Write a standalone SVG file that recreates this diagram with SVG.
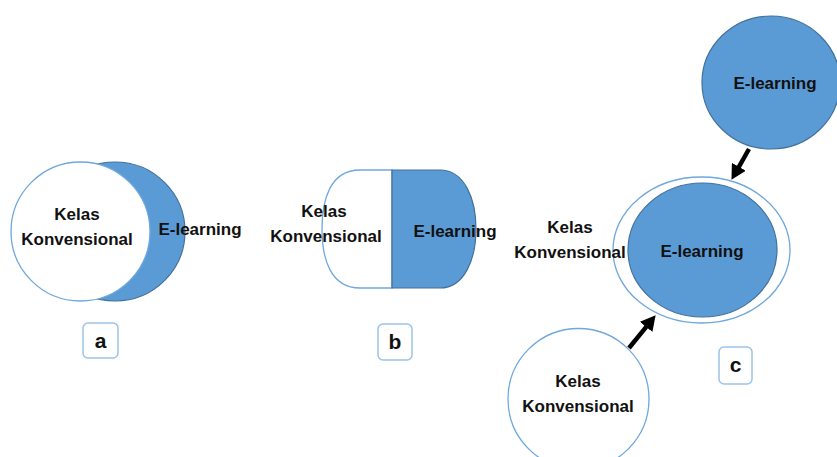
<svg xmlns="http://www.w3.org/2000/svg" width="837" height="457" viewBox="0 0 837 457">
<defs>
<style>
.blue{fill:#5B9BD5;stroke:#41719C;stroke-width:1.2}
.white{fill:#ffffff;stroke:#6FA8DC;stroke-width:1.3}
.lbl{fill:#ffffff;stroke:#9DC3E6;stroke-width:1.5}
text{font-family:"Liberation Sans",Arial,sans-serif;font-weight:bold;font-size:17px;fill:#111;text-anchor:middle}
.big{font-size:21px}
.arr{stroke:#000;stroke-width:4.5;fill:none}
</style>
<marker id="ah" markerUnits="userSpaceOnUse" markerWidth="16" markerHeight="16" refX="4" refY="8" orient="auto" viewBox="0 0 16 16">
<path d="M0,0 L15,8 L0,16 z" fill="#000"/>
</marker>
</defs>
<g id="diagram-a">
<ellipse class="blue" cx="115" cy="231.5" rx="70" ry="69.5"/>
<circle class="white" cx="80.5" cy="231.5" r="69.5"/>
<text x="77" y="220">Kelas</text>
<text x="77" y="245">Konvensional</text>
<text x="200" y="235">E-learning</text>
</g>
<g id="label-a">
<rect class="lbl" x="83" y="323" width="35" height="35" rx="5"/>
<text class="big" x="100.5" y="348">a</text>
</g>
<g id="diagram-b">
<path class="white" d="M392,170 H360 C330,170 322,200 322,229 C322,258 330,288 360,288 H392 Z"/>
<path class="blue" d="M392,170 H440 C465,170 476,200 476,229 C476,258 465,288 440,288 H392 Z"/>
<text x="324" y="217">Kelas</text>
<text x="326" y="242">Konvensional</text>
<text x="455" y="237">E-learning</text>
</g>
<g id="label-b">
<rect class="lbl" x="378" y="324" width="34" height="36" rx="5"/>
<text class="big" x="395" y="349">b</text>
</g>
<g id="elearning-top">
<ellipse class="blue" cx="771" cy="82.5" rx="69" ry="66.5"/>
<text x="775" y="89">E-learning</text>
</g>
<g id="blended">
<ellipse class="white" cx="701.5" cy="250" rx="88.5" ry="73"/>
<ellipse class="blue" cx="702.5" cy="250" rx="74.5" ry="67"/>
<text x="702" y="257">E-learning</text>
<text x="570" y="233">Kelas</text>
<text x="570" y="258">Konvensional</text>
</g>
<g id="kelas-bottom">
<circle class="white" cx="578.5" cy="399" r="70.5"/>
<text x="578" y="387">Kelas</text>
<text x="578" y="412">Konvensional</text>
</g>
<g id="label-c">
<rect class="lbl" x="719" y="347" width="33" height="37" rx="5"/>
<text class="big" x="735.5" y="372">c</text>
</g>
<g id="connectors">
<line class="arr" x1="749" y1="149" x2="736.9" y2="170.3" marker-end="url(#ah)"/>
<line class="arr" x1="629" y1="348" x2="648.7" y2="323.8" marker-end="url(#ah)"/>
</g>
</svg>
